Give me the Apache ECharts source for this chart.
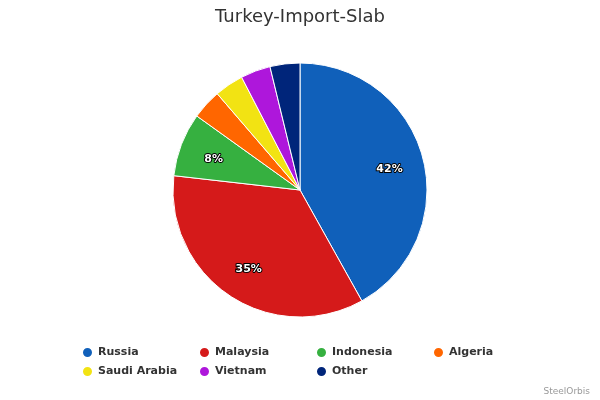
<!DOCTYPE html>
<html>
<head>
<meta charset="utf-8">
<script src="https://cdn.jsdelivr.net/npm/echarts@6/dist/echarts.min.js"></script>
<style>html,body{margin:0;padding:0;background:#fff}#c{width:600px;height:400px}</style>
</head>
<body>
<div id="c"></div>
<script>
const categories = ['Russia', 'Malaysia', 'Indonesia', 'Algeria', 'Saudi Arabia', 'Vietnam', 'Other'];
const shares = [41.9, 34.9, 8.1, 3.8, 3.7, 3.8, 3.8];
const colors = ['#1060BA', '#D51A1A', '#36B040', '#FF6600', '#F2E313', '#AE17DB', '#00257A'];

const data = categories.map((n, i) => ({ name: n, value: shares[i], itemStyle: { color: colors[i] } }));
const labelData = categories.map((n, i) => ({
  name: n, value: shares[i],
  label: { show: shares[i] > 5 }
}));

const chart = echarts.init(document.getElementById('c'));
chart.setOption({
  animation: false,
  title: {
    text: 'Turkey-Import-Slab', left: 'center', top: 8, padding: 0,
    textStyle: { fontFamily: 'DejaVu Sans', fontSize: 18, fontWeight: 'normal', color: '#333' }
  },
  graphic: [{
    type: 'text', right: 10, top: 387,
    style: { text: 'SteelOrbis', fontFamily: 'DejaVu Sans', fontSize: 9, fill: '#999' }
  }],
  legend: {
    data: categories,
    left: 81, top: 346, width: 490, padding: 0,
    itemWidth: 11, itemHeight: 11, itemGap: 6,
    icon: 'circle',
    formatter: '{a|{name}}',
    textStyle: {
      rich: { a: { width: 94, lineHeight: 13, fontFamily: 'DejaVu Sans', fontSize: 11, fontWeight: 'bold', color: '#333' } }
    }
  },
  series: [{
    type: 'pie', center: [300, 190], radius: [0, 127],
    startAngle: 90, clockwise: true,
    data: data,
    itemStyle: { borderColor: '#fff', borderWidth: 1 },
    label: { show: false }, labelLine: { show: false },
    emphasis: { disabled: true }
  }, {
    type: 'pie', center: [300, 192], radius: [52, 127],
    startAngle: 90, clockwise: true, silent: true,
    data: labelData,
    itemStyle: { color: 'rgba(0,0,0,0)', borderWidth: 0 },
    label: {
      position: 'inside', formatter: (p) => Math.round(p.value) + '%',
      fontFamily: 'DejaVu Sans', fontSize: 11, fontWeight: 'bold',
      color: '#fff', textBorderColor: '#000', textBorderWidth: 2
    },
    labelLine: { show: false },
    emphasis: { disabled: true },
    legendHoverLink: false
  }]
});
</script>
</body>
</html>
